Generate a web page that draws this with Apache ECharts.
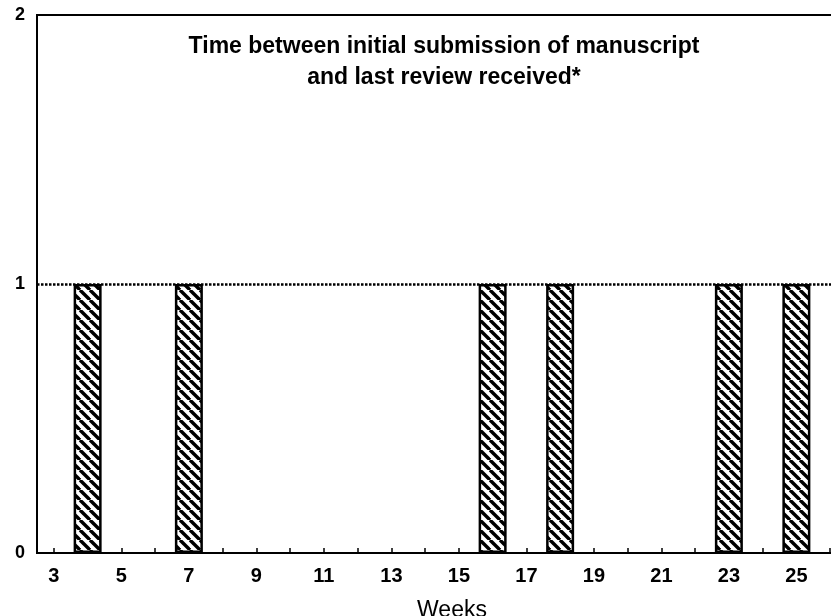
<!DOCTYPE html>
<html>
<head>
<meta charset="utf-8">
<script src="https://cdn.jsdelivr.net/npm/echarts@6/dist/echarts.min.js"></script>
<style>
  html, body { margin: 0; padding: 0; background: #fff; }
  #chart { width: 831px; height: 616px; }
</style>
</head>
<body>
<div id="chart"></div>
<script>
// ---- data ----
const weeks = ['3','4','5','6','7','8','9','10','11','12','13','14','15','16','17','18','19','20','21','22','23','24','25','26'];
const counts = [0,1,0,0,1,0,0,0,0,0,0,0,0,1,0,1,0,0,0,0,1,0,1,0];
const yTicks = [0, 1, 2];
const titleLines = ['Time between initial submission of manuscript', 'and last review received*'];
const xName = 'Weeks';
const refLevel = 1;

// hatch pattern "\\\\"
const P = 10;
const pc = document.createElement('canvas');
pc.width = P; pc.height = P;
const ctx = pc.getContext('2d');
ctx.fillStyle = '#fff';
ctx.fillRect(0, 0, P, P);
ctx.strokeStyle = '#000';
ctx.lineWidth = 3.4;
for (const off of [-P, 0, P]) {
  ctx.beginPath();
  ctx.moveTo(off, 0);
  ctx.lineTo(off + P, P);
  ctx.stroke();
}

const chart = echarts.init(document.getElementById('chart'), null, { renderer: 'canvas' });
const font = 'Liberation Sans, Arial, Helvetica, sans-serif';
chart.setOption({
  animation: false,
  backgroundColor: '#fff',
  title: {
    text: titleLines.join('\n'),
    left: 444,
    textAlign: 'center',
    top: 31,
    padding: 0,
    textStyle: { fontFamily: font, fontWeight: 'bold', fontSize: 23, lineHeight: 31, color: '#000' }
  },
  grid: {
    left: 37, right: -16, top: 15, bottom: 63,
    outerBoundsMode: 'none',
    containLabel: false,
    show: true, borderColor: '#000', borderWidth: 2, backgroundColor: 'transparent'
  },
  xAxis: {
    type: 'category',
    data: weeks,
    boundaryGap: true,
    name: xName,
    nameLocation: 'middle',
    nameGap: 46,
    nameTextStyle: { fontFamily: font, fontSize: 23, color: '#000', padding: [0, 0, 0, 20] },
    axisLine: { lineStyle: { color: '#000', width: 2 } },
    axisTick: { show: true, inside: true, length: 5, alignWithLabel: true, interval: 0, lineStyle: { color: '#000', width: 1.5 } },
    axisLabel: { interval: 1, margin: 13, fontFamily: font, fontWeight: 'bold', fontSize: 20, color: '#000' },
    splitLine: { show: false }
  },
  yAxis: {
    type: 'value',
    min: yTicks[0],
    max: yTicks[yTicks.length - 1],
    interval: 1,
    axisLine: { show: true, lineStyle: { color: '#000', width: 2 } },
    axisTick: { show: false },
    axisLabel: { margin: 12, fontFamily: font, fontWeight: 'bold', fontSize: 18, color: '#000', padding: [10, 0, 0, 0] },
    splitLine: { show: false }
  },
  series: [{
    type: 'bar',
    data: counts.map(v => (v === 0 ? '-' : v)),
    barWidth: 28,
    itemStyle: {
      color: { image: pc, repeat: 'repeat' },
      borderColor: '#000',
      borderWidth: 2.5
    },
    markLine: {
      silent: true,
      symbol: 'none',
      label: { show: false },
      lineStyle: { color: '#000', width: 2.5, type: [2.5, 1.5] },
      data: [{ yAxis: refLevel }]
    }
  }]
});
</script>
</body>
</html>
